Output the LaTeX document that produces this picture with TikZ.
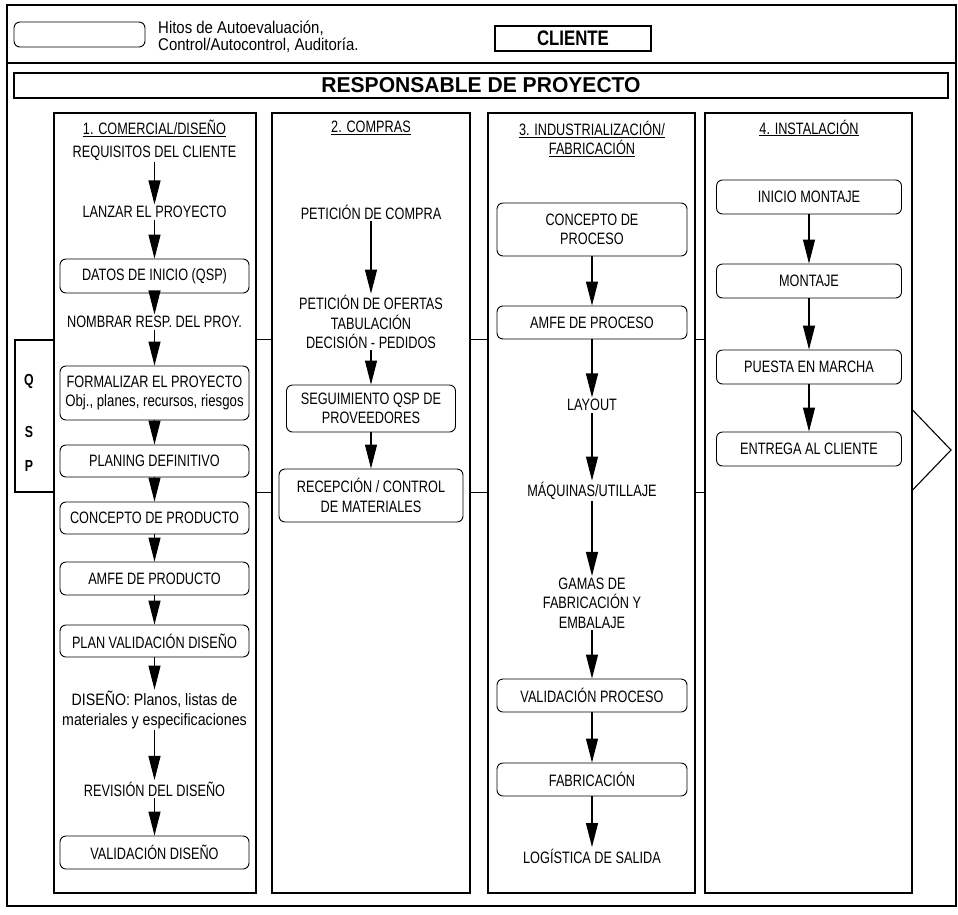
\documentclass[tikz,border=0pt]{standalone}
\usepackage{fontspec}
\usetikzlibrary{arrows.meta}
\newfontfamily\condfont{Liberation Sans}[FakeStretch=0.77]
\newfontfamily\lowfont{Liberation Sans}[FakeStretch=0.86]
\newfontfamily\objfont{Liberation Sans}[FakeStretch=0.80]
\newfontfamily\headfont{Liberation Sans}[FakeStretch=0.98]
\newfontfamily\clientfont{Liberation Sans}[FakeStretch=0.80]
\newfontfamily\legfont{Liberation Sans}[FakeStretch=0.88]
\tikzset{
  body/.style={font=\condfont\fontsize{16.5}{19.5}\selectfont, align=center, inner sep=1.5pt},
  lowbody/.style={body, font=\lowfont\fontsize{16.5}{19.5}\selectfont},
  rbox/.style={body, draw, rounded corners=6pt, line width=0.9pt, inner sep=0pt, minimum height=33pt},
  colbox/.style={draw, line width=1.2pt, inner sep=0pt},
  frameline/.style={line width=1.1pt},
  arr/.style={-{Triangle[width=12pt,length=24pt]}, line width=1.1pt},
  headbox/.style={draw, line width=1.1pt, inner sep=0pt}
}
\begin{document}
\begin{tikzpicture}[x=1pt,y=-1pt]
\useasboundingbox (0,0) rectangle (958,914);

% outer frame and separator
\draw[frameline] (7,5) rectangle (956,906);
\draw[frameline] (7,63) -- (956,63);

% legend
\node[draw, rounded corners=6pt, line width=0.9pt, minimum width=131pt, minimum height=25pt, inner sep=0pt] (legbox) at (79.5,34.5) {};
\node[anchor=west, align=left, inner sep=0pt, font=\legfont\fontsize{17}{17}\selectfont] (legtxt) at (158,37) {Hitos de Autoevaluación,\\Control/Autocontrol, Auditoría.};

% top boxes
\node[headbox, minimum width=156pt, minimum height=25pt, font=\clientfont\bfseries\fontsize{21}{24}\selectfont] (cliente) at (573,38.5) {CLIENTE};
\node[headbox, minimum width=934pt, minimum height=25pt, font=\headfont\bfseries\fontsize{21.5}{24}\selectfont] (resp) at (481,85.5) {RESPONSABLE DE PROYECTO};

% QSP band
\node[draw, line width=1.1pt, minimum width=39pt, minimum height=152pt, inner sep=0pt] (qsp) at (34.5,416) {};
\node[font=\condfont\bfseries\fontsize{16}{18}\selectfont] (q) at (29,381) {Q};
\node[font=\condfont\bfseries\fontsize{16}{18}\selectfont] (s) at (29,432) {S};
\node[font=\condfont\bfseries\fontsize{16}{18}\selectfont] (p) at (29,466) {P};

% columns
\node[colbox, minimum width=202pt, minimum height=780pt] (col1) at (155,503) {};
\node[colbox, minimum width=198pt, minimum height=780pt] (col2) at (371,503) {};
\node[colbox, minimum width=207pt, minimum height=780pt] (col3) at (591.5,503) {};
\node[colbox, minimum width=207pt, minimum height=780pt] (col4) at (808.5,503) {};

% band lines between the columns
\foreach \a/\b in {col1/col2, col2/col3, col3/col4} {
  \draw[frameline] (\a.east |- qsp.north) -- (\b.west |- qsp.north);
  \draw[frameline] (\a.east |- qsp.south) -- (\b.west |- qsp.south);
}
% band arrow head
\draw[frameline] (col4.east |- 0,410) -- (951,450) -- (col4.east |- 0,490);

% column 1
\node[body] (t1) at (154.5,128) {\underline{1. COMERCIAL/DISEÑO}};
\node[body] (req) at (154.5,153) {REQUISITOS DEL CLIENTE};
\node[body] (lan) at (154.5,212) {LANZAR EL PROYECTO};
\node[rbox, minimum width=189pt, minimum height=34pt] (dat) at (154.5,276) {DATOS DE INICIO (QSP)};
\node[body] (nom) at (154.5,322) {NOMBRAR RESP. DEL PROY.};
\node[rbox, minimum width=189pt, minimum height=54pt] (for) at (154.5,393) {FORMALIZAR EL PROYECTO\\{\objfont Obj., planes, recursos, riesgos}};
\node[rbox, minimum width=189pt, minimum height=32pt] (pla) at (154.5,461) {PLANING DEFINITIVO};
\node[rbox, minimum width=189pt, minimum height=32pt] (con) at (154.5,518) {CONCEPTO DE PRODUCTO};
\node[rbox, minimum width=189pt, minimum height=33pt] (amf) at (154.5,578.5) {AMFE DE PRODUCTO};
\node[rbox, minimum width=189pt, minimum height=32pt] (pva) at (154.5,641) {PLAN VALIDACIÓN DISEÑO};
\node[lowbody] (dis) at (154.5,710) {DISEÑO: Planos, listas de\\materiales y especificaciones};
\node[body] (rev) at (154.5,789) {REVISIÓN DEL DISEÑO};
\node[rbox, minimum width=189pt, minimum height=33pt] (val) at (154.5,852.5) {VALIDACIÓN DISEÑO};
\foreach \a/\b in {req/lan, lan/dat, dat/nom, nom/for, for/pla, pla/con, con/amf, amf/pva, pva/dis, dis/rev, rev/val}
  \draw[arr] (\a.south) -- (\b.north);

% column 2
\node[body] (t2) at (371,128) {\underline{2. COMPRAS}};
\node[body] (pc) at (371,212) {PETICIÓN DE COMPRA};
\node[body] (po) at (371,322) {PETICIÓN DE OFERTAS\\TABULACIÓN\\DECISIÓN - PEDIDOS};
\node[rbox, minimum width=169pt, minimum height=47pt] (seg) at (371,408.5) {SEGUIMIENTO QSP DE\\PROVEEDORES};
\node[rbox, minimum width=184pt, minimum height=53pt] (rec) at (371,495.5) {RECEPCIÓN / CONTROL\\DE MATERIALES};
\foreach \a/\b in {pc/po, po/seg, seg/rec}
  \draw[arr] (\a.south) -- (\b.north);

% column 3
\node[body] (t3) at (592,139) {\underline{3. INDUSTRIALIZACIÓN/}\\\underline{FABRICACIÓN}};
\node[rbox, minimum width=190pt, minimum height=53pt] (cdp) at (592,229.5) {CONCEPTO DE\\PROCESO};
\node[rbox, minimum width=190pt, minimum height=33pt] (adp) at (592,322.5) {AMFE DE PROCESO};
\node[body] (lay) at (592,405) {LAYOUT};
\node[body] (maq) at (592,491) {MÁQUINAS/UTILLAJE};
\node[body] (gam) at (592,603) {GAMAS DE\\FABRICACIÓN Y\\EMBALAJE};
\node[rbox, minimum width=190pt, minimum height=33pt] (vpr) at (592,695.5) {VALIDACIÓN PROCESO};
\node[rbox, minimum width=190pt, minimum height=33pt] (fab) at (592,779.5) {FABRICACIÓN};
\node[body] (log) at (592,856) {LOGÍSTICA DE SALIDA};
\foreach \a/\b in {cdp/adp, adp/lay, lay/maq, maq/gam, gam/vpr, vpr/fab, fab/log}
  \draw[arr] (\a.south) -- (\b.north);

% column 4
\node[body] (t4) at (809,128) {\underline{4. INSTALACIÓN}};
\node[rbox, minimum width=185pt, minimum height=34pt] (ini) at (809,197) {INICIO MONTAJE};
\node[rbox, minimum width=185pt, minimum height=34pt] (mon) at (809,281) {MONTAJE};
\node[rbox, minimum width=185pt, minimum height=34pt] (pue) at (809,367) {PUESTA EN MARCHA};
\node[rbox, minimum width=185pt, minimum height=34pt] (ent) at (809,449) {ENTREGA AL CLIENTE};
\foreach \a/\b in {ini/mon, mon/pue, pue/ent}
  \draw[arr] (\a.south) -- (\b.north);
\end{tikzpicture}
\end{document}
